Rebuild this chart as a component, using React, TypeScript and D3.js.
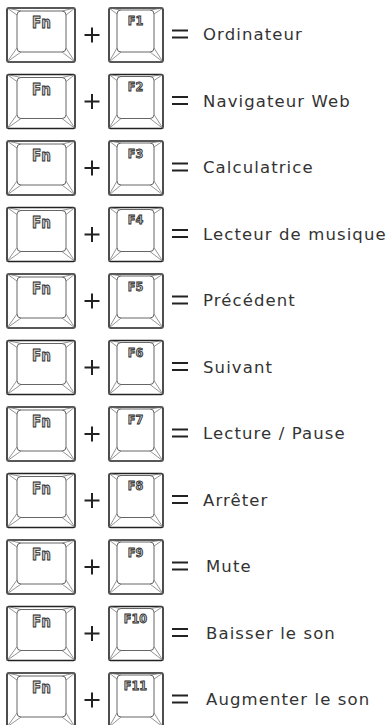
import { useEffect, useRef } from 'react';
import * as d3 from 'd3';

// key labels and what the Fn combo does
const modifierLabel = 'Fn';
const functionKeys = ['F1', 'F2', 'F3', 'F4', 'F5', 'F6', 'F7', 'F8', 'F9', 'F10', 'F11'];
const actions = [
  'Ordinateur',
  'Navigateur Web',
  'Calculatrice',
  'Lecteur de musique',
  'Précédent',
  'Suivant',
  'Lecture / Pause',
  'Arrêter',
  'Mute',
  'Baisser le son',
  'Augmenter le son',
];

const WIDTH = 390;
const HEIGHT = 725;
const INK = '#222';

type Box = { x: number; w: number; h: number; inset: { l: number; r: number; t: number; b: number }; labelSize: number; labelDy: number };

const fnBox: Box = { x: 7, w: 68, h: 54, inset: { l: 10, r: 9, t: 3, b: 10 }, labelSize: 15, labelDy: 20 };
const fxBox: Box = { x: 109, w: 54, h: 54, inset: { l: 8, r: 9, t: 2, b: 10 }, labelSize: 12.5, labelDy: 16.5 };

function drawKey(g: d3.Selection<SVGGElement, unknown, null, undefined>, box: Box, top: number, label: string) {
  const k = g.append('g').attr('transform', `translate(${box.x},${top})`);
  const ix0 = box.inset.l;
  const ix1 = box.w - box.inset.r;
  const iy0 = box.inset.t;
  const iy1 = box.h - box.inset.b;
  const r = 4;

  k.append('rect')
    .attr('x', 0).attr('y', 0)
    .attr('width', box.w).attr('height', box.h)
    .attr('rx', 1.5)
    .attr('fill', '#fff')
    .attr('stroke', INK)
    .attr('stroke-width', 1.6);

  // bevel lines from outer corners to both ends of the inner rounded corner
  const corners: [number, number, number, number, number, number][] = [
    [0, 0, ix0, iy0 + r, ix0 + r, iy0],
    [box.w, 0, ix1, iy0 + r, ix1 - r, iy0],
    [0, box.h, ix0, iy1 - r, ix0 + r, iy1],
    [box.w, box.h, ix1, iy1 - r, ix1 - r, iy1],
  ];
  corners.forEach(([ox, oy, ax, ay, bx, by]) => {
    k.append('path')
      .attr('d', `M${ax},${ay}L${ox},${oy}L${bx},${by}`)
      .attr('fill', 'none')
      .attr('stroke', '#666')
      .attr('stroke-width', 0.7);
  });

  k.append('rect')
    .attr('x', ix0).attr('y', iy0)
    .attr('width', ix1 - ix0).attr('height', iy1 - iy0)
    .attr('rx', r)
    .attr('fill', '#fff')
    .attr('stroke', '#555')
    .attr('stroke-width', 0.9);

  k.append('text')
    .attr('x', (ix0 + ix1) / 2)
    .attr('y', box.labelDy)
    .attr('text-anchor', 'middle')
    .style('font-family', '"DejaVu Sans Condensed", "DejaVu Sans", sans-serif')
    .style('font-weight', 'bold')
    .style('font-size', `${box.labelSize}px`)
    .style('fill', '#c4c4c4')
    .style('stroke', '#2a2a2a')
    .style('stroke-width', 0.8)
    .text(label);
}

export default function App() {
  const svgRef = useRef<SVGSVGElement>(null);

  useEffect(() => {
    if (!svgRef.current) return;
    const svg = d3.select(svgRef.current);
    svg.selectAll('*').remove();

    const rowTop = d3.scaleLinear()
      .domain([0, actions.length - 1])
      .range([8, 673]);

    const g = svg.append('g');

    actions.forEach((action, i) => {
      const top = rowTop(i);
      const row = g.append('g');

      drawKey(row, fnBox, top, modifierLabel);
      drawKey(row, fxBox, top, functionKeys[i]);

      // plus sign
      const px = 92;
      const py = top + 27;
      row.append('path')
        .attr('d', `M${px - 7.5},${py}H${px + 7.5}M${px},${py - 7.5}V${py + 7.5}`)
        .attr('stroke', INK)
        .attr('stroke-width', 2)
        .attr('fill', 'none');

      // equals sign
      row.append('path')
        .attr('d', `M172,${top + 22.5}H188M172,${top + 29.5}H188`)
        .attr('stroke', INK)
        .attr('stroke-width', 2)
        .attr('fill', 'none');

      row.append('text')
        .attr('x', i >= 8 ? 206 : 203)
        .attr('y', top + 32)
        .style('font-family', '"DejaVu Sans", sans-serif')
        .style('font-weight', 400)
        .style('font-size', '16.5px')
        .style('letter-spacing', '1.1px')
        .style('fill', '#333')
        .text(action);
    });
  }, []);

  return (
    <svg
      ref={svgRef}
      width={WIDTH}
      height={HEIGHT}
      style={{ position: 'absolute', left: 0, top: 0, background: '#fff' }}
    />
  );
}
